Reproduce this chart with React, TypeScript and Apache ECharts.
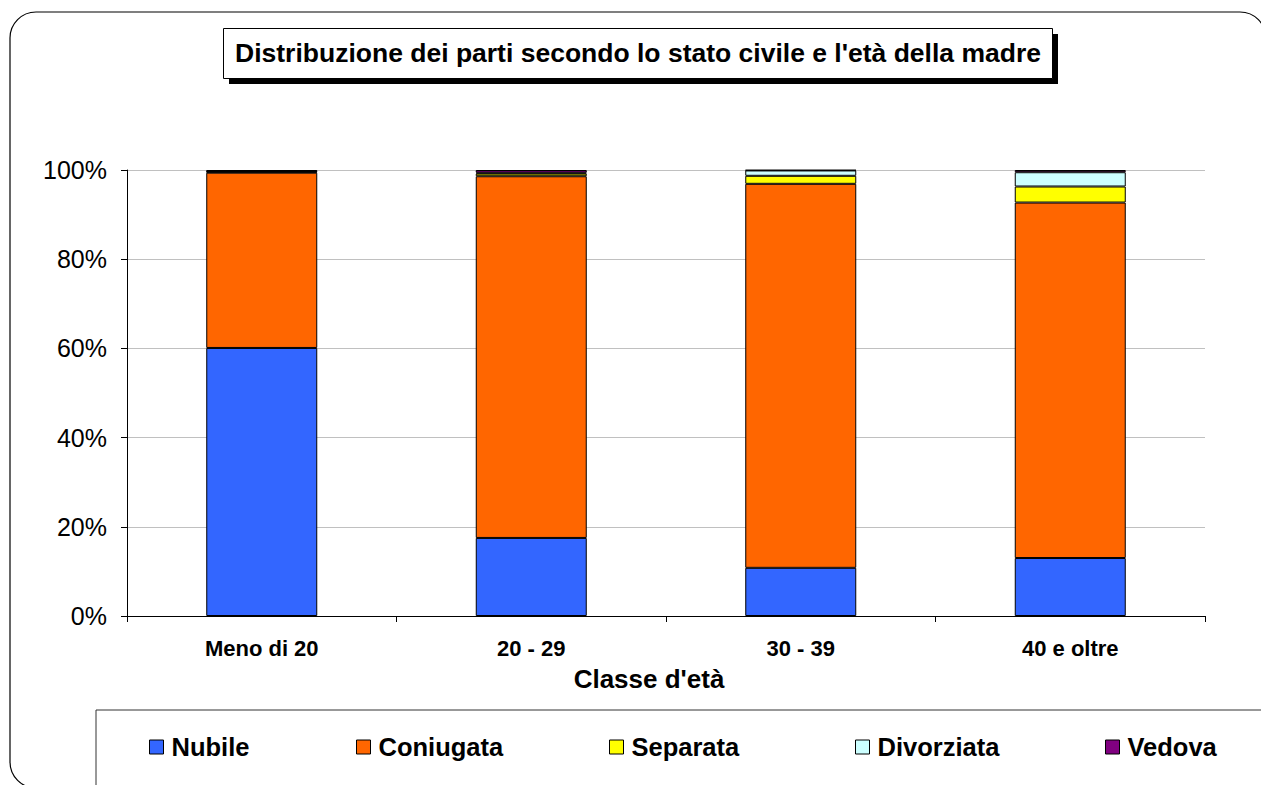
import React, { useEffect, useRef } from "react";
import * as echarts from "echarts";

const categories = ["Meno di 20", "20 - 29", "30 - 39", "40 e oltre"];
const seriesNames = ["Nubile", "Coniugata", "Separata", "Divorziata", "Vedova"];
const nubile = [60.1, 17.5, 10.8, 13.0];
const coniugata = [39.3, 81.1, 86.1, 79.7];
const separata = [0.2, 0.6, 1.8, 3.6];
const divorziata = [0.05, 0.2, 1.2, 3.2];
const vedova = [0.35, 0.6, 0.1, 0.5];
const yTicks = [0, 20, 40, 60, 80, 100];
const colors = ["#3366FF", "#FF6600", "#FFFF00", "#CCFFFF", "#800080"];
const legendX = [149, 356, 609, 855, 1105];

const FONT = "'Liberation Sans', Arial, sans-serif";

export default function App() {
  const ref = useRef<HTMLDivElement>(null);
  useEffect(() => {
    if (!ref.current) return;
    const chart = echarts.init(ref.current, undefined, { renderer: "svg" });
    const values = [nubile, coniugata, separata, divorziata, vedova];
    const option: any = {
      animation: false,
      backgroundColor: "#ffffff",
      textStyle: { fontFamily: FONT },
      grid: { left: 127, right: 56, top: 170, bottom: 169, containLabel: false },
      graphic: [
        {
          type: "rect",
          shape: { x: 10, y: 12, width: 1256, height: 776, r: 26 },
          style: { fill: "none", stroke: "#000", lineWidth: 1.2 },
          silent: true,
          z: -10,
        },
        {
          type: "rect",
          shape: { x: 96, y: 710, width: 1200, height: 100 },
          style: { fill: "#fff", stroke: "#333", lineWidth: 1 },
          silent: true,
          z: -5,
        },
        {
          type: "rect",
          shape: { x: 229, y: 34, width: 829, height: 50 },
          style: { fill: "#000" },
          silent: true,
        },
        {
          type: "rect",
          shape: { x: 223.5, y: 28.5, width: 829, height: 50 },
          style: { fill: "#fff", stroke: "#000", lineWidth: 1 },
          silent: true,
        },
        {
          type: "text",
          x: 638,
          y: 53,
          style: {
            text: "Distribuzione dei parti secondo lo stato civile e l'età della madre",
            fontFamily: FONT,
            fontWeight: "bold",
            fontSize: 26.5,
            fill: "#000",
            align: "center",
            verticalAlign: "middle",
          },
          silent: true,
        },
      ],
      legend: seriesNames.map((n, i) => ({
        data: [n],
        left: legendX[i],
        top: 734,
        padding: 0,
        itemWidth: 14,
        itemHeight: 14,
        itemGap: 5,
        icon: "rect",
        itemStyle: { borderColor: "#000", borderWidth: 1 },
        textStyle: { fontFamily: FONT, fontWeight: "bold", fontSize: 25.5, color: "#000", padding: [0, 0, 0, 3] },
        selectedMode: false,
      })),
      xAxis: {
        type: "category",
        data: categories,
        boundaryGap: true,
        axisLine: { show: true, lineStyle: { color: "#000", width: 1 } },
        axisTick: { show: true, alignWithLabel: false, length: 6, lineStyle: { color: "#000" } },
        axisLabel: { fontFamily: FONT, fontWeight: "bold", fontSize: 22, color: "#000", margin: 21 },
        name: "Classe d'età",
        nameLocation: "middle",
        nameGap: 50,
        nameTextStyle: { fontFamily: FONT, fontWeight: "bold", fontSize: 26, color: "#000", padding: [0, 34, 0, 0] },
      },
      yAxis: {
        type: "value",
        min: 0,
        max: 100,
        interval: 20,
        axisLine: { show: true, lineStyle: { color: "#000", width: 1 } },
        axisTick: { show: true, length: 6, lineStyle: { color: "#000" } },
        axisLabel: {
          fontFamily: FONT,
          fontSize: 25,
          color: "#000",
          margin: 20,
          formatter: (v: number) => (yTicks.includes(v) ? v + "%" : ""),
        },
        splitLine: { show: true, lineStyle: { color: "#c0c0c0", width: 1 } },
      },
      series: seriesNames.map((n, i) => ({
        name: n,
        type: "bar",
        stack: "total",
        data: values[i],
        barWidth: 111,
        itemStyle: { color: colors[i], borderColor: "#000", borderWidth: 1 },
      })),
    };
    chart.setOption(option);
    return () => chart.dispose();
  }, []);
  return (
    <div
      ref={ref}
      style={{ position: "fixed", left: 0, top: 0, width: 1261, height: 785, background: "#fff" }}
    />
  );
}
